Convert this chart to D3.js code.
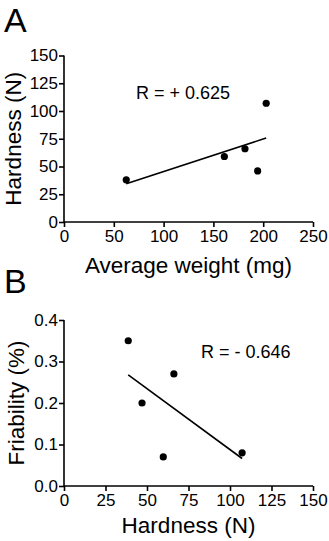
<!DOCTYPE html>
<html><head><meta charset="utf-8">
<script src="https://cdn.jsdelivr.net/npm/d3@7"></script>
<style>
html,body{margin:0;padding:0;background:#fff;}
svg text{font-family:"Liberation Sans",Arial,sans-serif;fill:#000;}
</style></head>
<body><svg id="c" width="329" height="541"></svg>
<script>
// Panel A data
const weightA = [62.5, 161, 181.7, 194.4, 203];
const hardnessA = [38, 59, 66, 46, 107];
const xTicksA = [0, 50, 100, 150, 200, 250];
const yTicksA = [0, 25, 50, 75, 100, 125, 150];
const labelA = "R = + 0.625";
// Panel B data
const hardnessB = [38.7, 47, 59.8, 66.2, 107.3];
const friabilityB = [0.35, 0.20, 0.07, 0.27, 0.08];
const xTicksB = [0, 25, 50, 75, 100, 125, 150];
const yTicksB = [0.0, 0.1, 0.2, 0.3, 0.4];
const labelB = "R = - 0.646";

const svg = d3.select("#c");

function regression(xs, ys){
  const n = xs.length, mx = d3.mean(xs), my = d3.mean(ys);
  let sxy = 0, sxx = 0;
  for (let i=0;i<n;i++){ sxy += (xs[i]-mx)*(ys[i]-my); sxx += (xs[i]-mx)**2; }
  const b = sxy/sxx, a = my - b*mx;
  const x0 = d3.min(xs), x1 = d3.max(xs);
  return [[x0, a+b*x0],[x1, a+b*x1]];
}

function panel(o){
  const g = svg.append("g");
  const x = d3.scaleLinear().domain(o.xDomain).range([64, 313]);
  const y = d3.scaleLinear().domain(o.yDomain).range([o.y0, o.y1]);
  const xa = g.append("g").attr("transform",`translate(0,${o.y0})`)
    .call(d3.axisBottom(x).tickValues(o.xTicks).tickSize(5).tickPadding(3).tickFormat(d3.format("d")));
  const ya = g.append("g").attr("transform",`translate(64,0)`)
    .call(d3.axisLeft(y).tickValues(o.yTicks).tickSize(5).tickPadding(1).tickFormat(o.yFmt));
  [xa, ya].forEach(a=>{
    a.select(".domain").attr("stroke","#000").attr("stroke-width",1.6);
    a.selectAll(".tick line").attr("stroke","#000").attr("stroke-width",1.6);
    a.selectAll(".tick text").attr("font-size",17).attr("fill","#000")
      .style("font-family",'"Liberation Sans",Arial,sans-serif');
  });
  ya.select(".domain").attr("d",`M0,${o.y0}V${o.y1}`);
  xa.select(".domain").attr("d",`M${x.range()[0]},0H${x.range()[1]}`);
  const reg = regression(o.xs, o.ys);
  g.append("line")
    .attr("x1", x(reg[0][0])).attr("y1", y(reg[0][1]))
    .attr("x2", x(reg[1][0])).attr("y2", y(reg[1][1]))
    .attr("stroke","#000").attr("stroke-width",1.6);
  g.selectAll("circle.pt").data(o.xs.map((v,i)=>[v,o.ys[i]])).enter()
    .append("circle").attr("cx",d=>x(d[0])).attr("cy",d=>y(d[1])).attr("r",3.6).attr("fill","#000");
  g.append("text").attr("x",o.lx).attr("y",o.ly).attr("font-size",18).text(o.label);
  g.append("text").attr("x",188.5).attr("y",o.xtY).attr("text-anchor","middle").attr("font-size",22.5).text(o.xTitle);
  g.append("text").attr("transform",`translate(${o.ytX},${(o.y0+o.y1)/2}) rotate(-90)`)
    .attr("text-anchor","middle").attr("font-size",22.5).text(o.yTitle);
  g.append("text").attr("x",4).attr("y",o.letterY).attr("font-size",34).text(o.letter);
}

panel({xs:weightA, ys:hardnessA, xDomain:[0,250], yDomain:[0,150], y0:222, y1:55.5,
  xTicks:xTicksA, yTicks:yTicksA, yFmt:d3.format("d"), label:labelA, lx:136, ly:99,
  xTitle:"Average weight (mg)", xtY:273, yTitle:"Hardness (N)", ytX:21, letter:"A", letterY:32});
panel({xs:hardnessB, ys:friabilityB, xDomain:[0,150], yDomain:[0,0.4], y0:486, y1:320,
  xTicks:xTicksB, yTicks:yTicksB, yFmt:d3.format(".1f"), label:labelB, lx:201, ly:358,
  xTitle:"Hardness (N)", xtY:533, yTitle:"Friability (%)", ytX:24, letter:"B", letterY:293});
</script></body></html>
